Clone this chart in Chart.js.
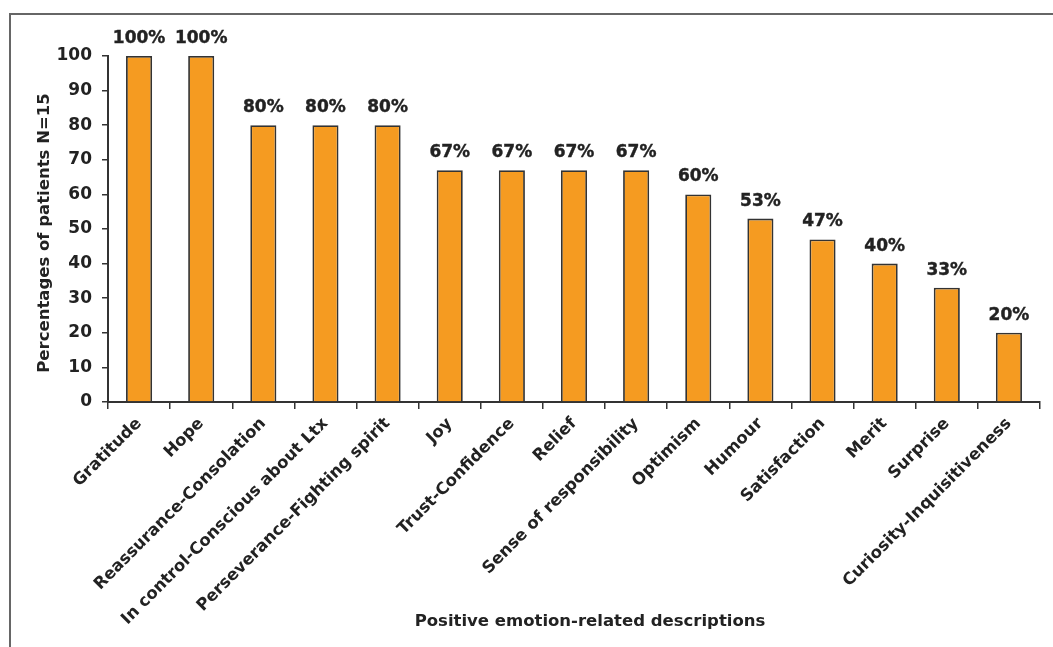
<!DOCTYPE html>
<html>
<head>
<meta charset="utf-8">
<script src="https://cdn.jsdelivr.net/npm/chart.js@4.4.0/dist/chart.umd.min.js"></script>
<style>
  html, body { margin:0; padding:0; background:#fff; }
  #wrap { position:relative; width:1053px; height:647px; }
  #frame { position:absolute; left:9px; top:13px; right:0; bottom:0; border-top:2px solid #666; border-left:2px solid #666; }
  canvas { position:absolute; left:0; top:0; }
</style>
</head>
<body>
<div id="wrap">
  <div id="frame"></div>
  <canvas id="c" width="1053" height="647"></canvas>
</div>
<script>
const categories = ["Gratitude","Hope","Reassurance-Consolation","In control-Conscious about Ltx","Perseverance-Fighting spirit","Joy","Trust-Confidence","Relief","Sense of responsibility","Optimism","Humour","Satisfaction","Merit","Surprise","Curiosity-Inquisitiveness"];
const values = [100,100,80,80,80,67,67,67,67,60,53,47,40,33,20];
const valueLabels = ["100%","100%","80%","80%","80%","67%","67%","67%","67%","60%","53%","47%","40%","33%","20%"];
const yTitle = "Percentages of patients N=15";
const xTitle = "Positive emotion-related descriptions";

const FONT = "'DejaVu Sans', Verdana, sans-serif";
const dark = "#222";

const labelPlugin = {
  id: 'valueLabels',
  afterDatasetsDraw(chart) {
    const ctx = chart.ctx;
    const meta = chart.getDatasetMeta(0);
    ctx.save();
    ctx.font = "bold 17px " + FONT;
    ctx.fillStyle = dark;
    ctx.strokeStyle = dark;
    ctx.lineWidth = 0.4;
    ctx.textAlign = 'center';
    ctx.textBaseline = 'bottom';
    meta.data.forEach((bar, i) => {
      ctx.fillText(valueLabels[i], bar.x, bar.y - 9);
      ctx.strokeText(valueLabels[i], bar.x, bar.y - 9);
    });
    // axis titles
    ctx.font = "bold 16.5px " + FONT;
    ctx.textBaseline = 'middle';
    ctx.fillText(xTitle, 590, 622);
    ctx.translate(45, 233);
    ctx.rotate(-Math.PI / 2);
    ctx.fillText(yTitle, 0, 0);
    ctx.restore();
  }
};

new Chart(document.getElementById('c'), {
  type: 'bar',
  data: {
    labels: categories,
    datasets: [{
      data: values,
      backgroundColor: '#F59B21',
      borderColor: '#333',
      borderWidth: 1.8,
      barPercentage: 0.42,
      categoryPercentage: 1.0
    }]
  },
  plugins: [labelPlugin],
  options: {
    responsive: false,
    animation: false,
    devicePixelRatio: 1,
    layout: { padding: { top: 56, right: 13, left: 0, bottom: 0 } },
    plugins: { legend: { display: false }, tooltip: { enabled: false } },
    scales: {
      x: {
        afterFit(s) { s.height = 245; },
        grid: { display: true, drawOnChartArea: false, drawTicks: true, tickLength: 7, color: '#333', lineWidth: 1.5, offset: true },
        border: { display: true, color: '#333', width: 2 },
        ticks: {
          color: dark,
          font: { family: FONT, size: 16.5, weight: 'bold' },
          maxRotation: 45, minRotation: 45,
          autoSkip: false,
          padding: 5
        },
        title: { display: false }
      },
      y: {
        min: 0, max: 100,
        afterFit(s) { s.width = 108; },
        grid: { display: true, drawOnChartArea: false, drawTicks: true, tickLength: 6, color: '#333', lineWidth: 1.5 },
        border: { display: true, color: '#333', width: 2 },
        ticks: {
          stepSize: 10, color: dark,
          font: { family: FONT, size: 17, weight: 'bold' },
          padding: 10
        },
        title: { display: false }
      }
    }
  }
});
</script>
</body>
</html>
